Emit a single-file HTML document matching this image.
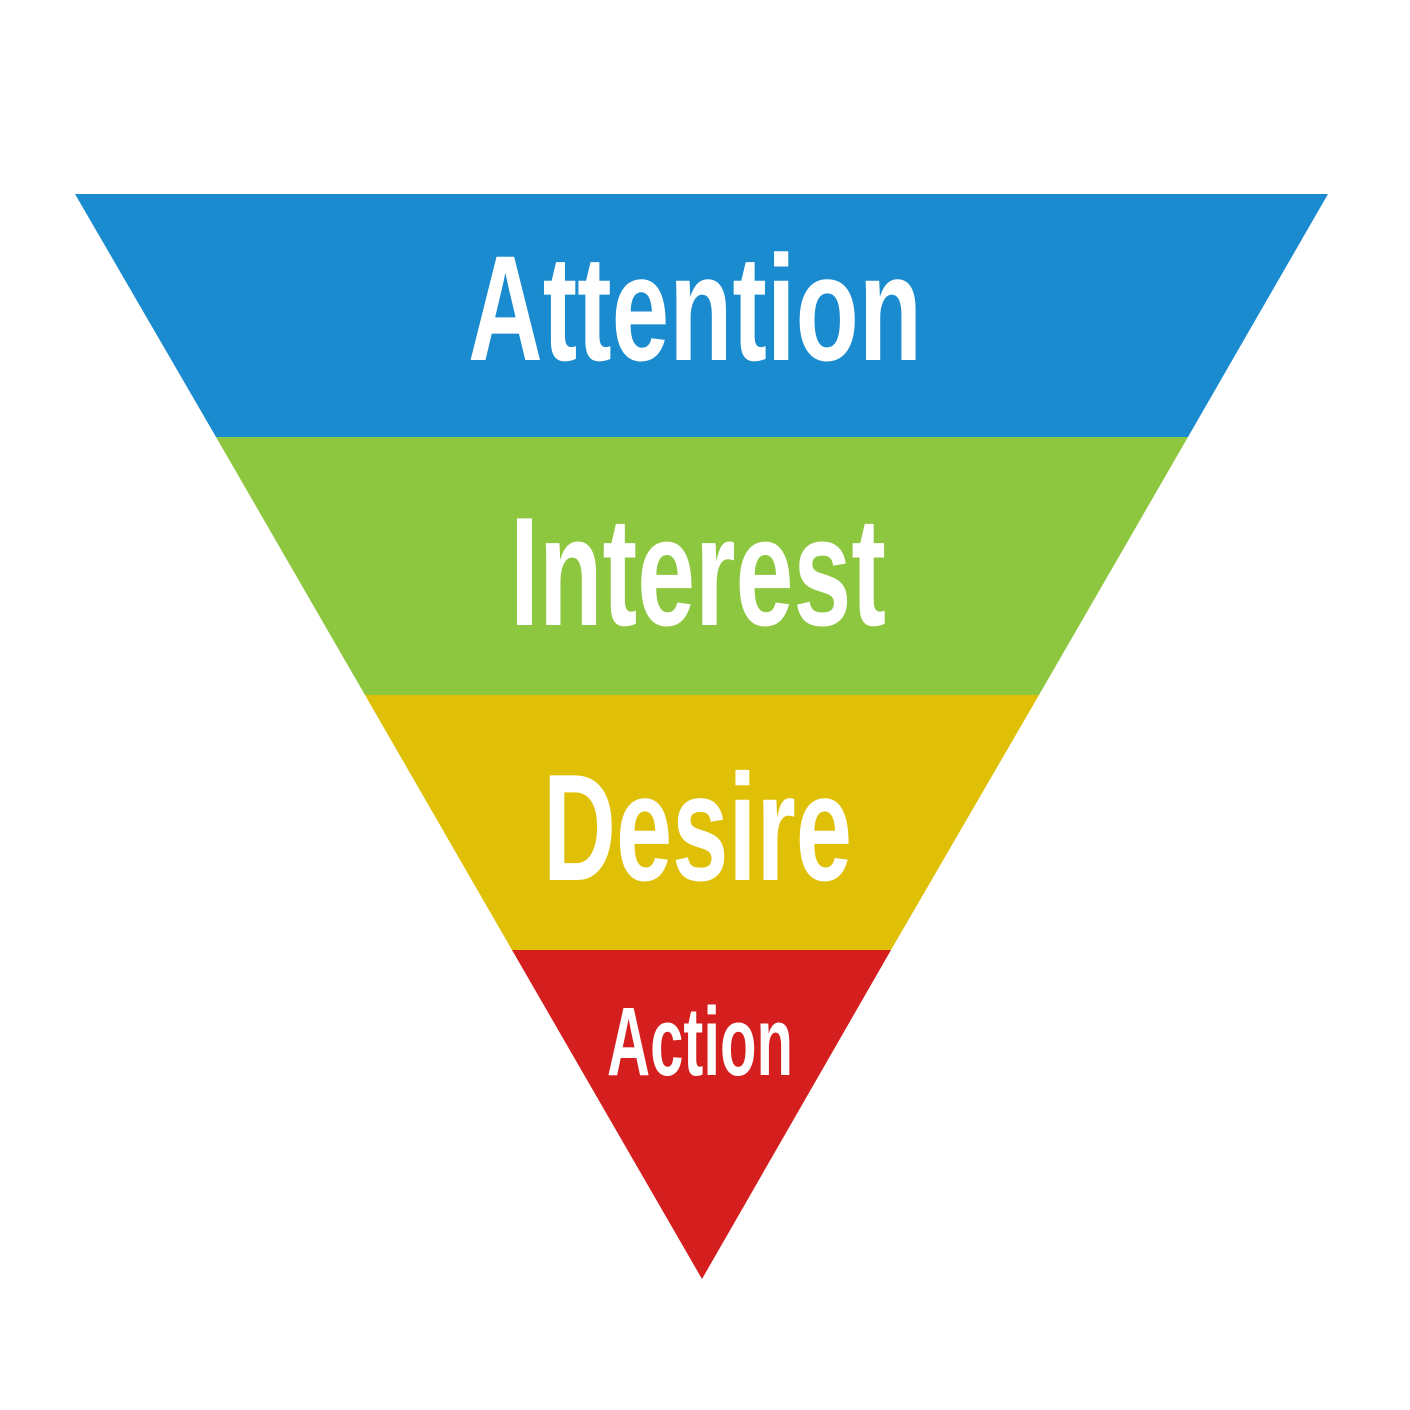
<!DOCTYPE html>
<html><head><meta charset="utf-8"><style>html,body{margin:0;padding:0;background:#fff}svg{display:block}</style></head>
<body>
<svg width="1410" height="1410" viewBox="0 0 1410 1410" xmlns="http://www.w3.org/2000/svg">
<polygon points="75,194 1328,194 1188,437 216,437" fill="#1a8bcf"/>
<polygon points="216,437 1188,437 1039,695 365,695" fill="#8dc63f"/>
<polygon points="365,695 1039,695 891,950 512,950" fill="#e0c007"/>
<polygon points="512,950 891,950 702,1279" fill="#d51f1f"/>
<g fill="#fff" font-family="'Liberation Sans', sans-serif" font-weight="bold">
<text x="468" y="360" font-size="150" textLength="454" lengthAdjust="spacingAndGlyphs">Attention</text>
<text x="510" y="625" font-size="155" textLength="376" lengthAdjust="spacingAndGlyphs">Interest</text>
<text x="543" y="880" font-size="152" textLength="309" lengthAdjust="spacingAndGlyphs">Desire</text>
<text x="607" y="1075" font-size="97" textLength="186" lengthAdjust="spacingAndGlyphs">Action</text>
</g>
</svg>
</body></html>
